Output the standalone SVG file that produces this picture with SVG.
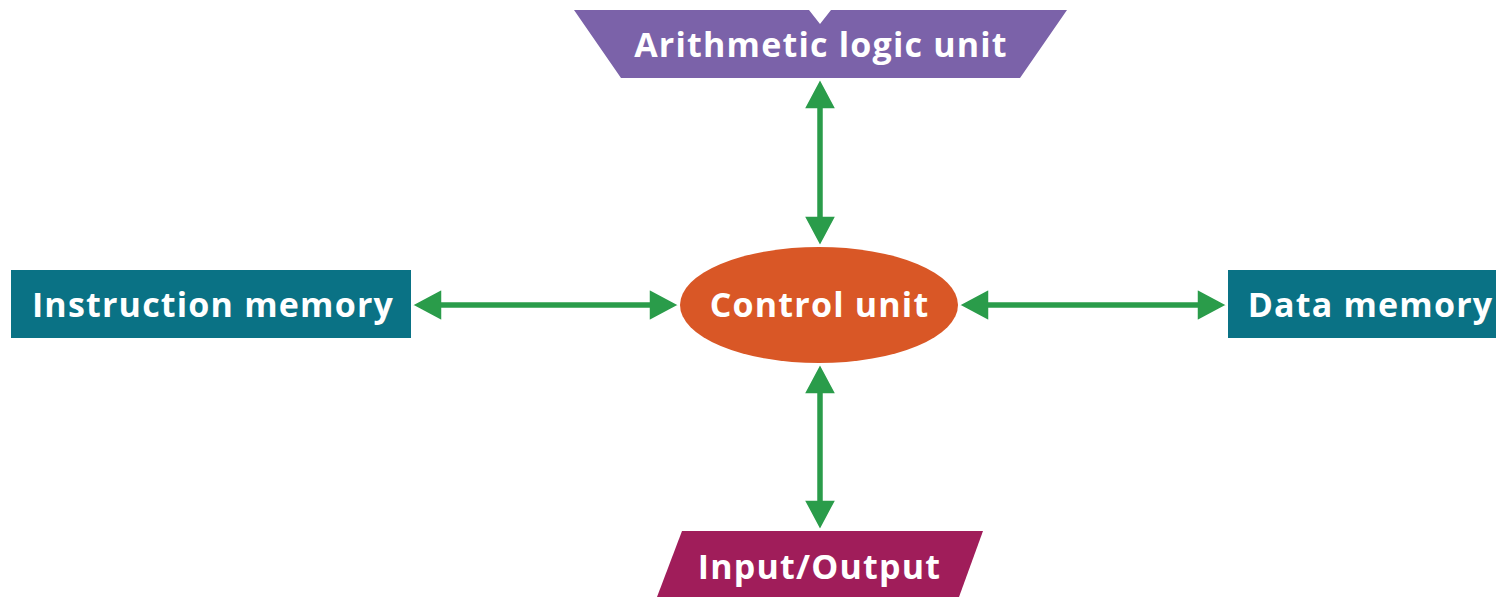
<svg xmlns="http://www.w3.org/2000/svg" width="1496" height="597" viewBox="0 0 1496 597">
<defs>
<style>
.lbl{font-family:"Open Sans","Noto Sans","Liberation Sans",sans-serif;font-weight:700;font-size:34px;letter-spacing:1.2px;fill:#fff;text-anchor:middle}
.arr{fill:#2a9c4a;stroke:#fff;stroke-width:1.5;stroke-linejoin:miter}
</style>
</defs>
<rect width="1496" height="597" fill="#fff"/>
<g id="connectors">
<polygon class="arr" points="820,79 836,109 823.5,109 823.5,216 836,216 820,246 804,216 816.5,216 816.5,109 804,109"/>
<polygon class="arr" points="820,364 836,394 823.5,394 823.5,500 836,500 820,530 804,500 816.5,500 816.5,394 804,394"/>
<polygon class="arr" points="412,305 442,289 442,301.5 649,301.5 649,289 679,305 649,321 649,308.5 442,308.5 442,321"/>
<polygon class="arr" points="959,305 989,289 989,301.5 1197,301.5 1197,289 1227,305 1197,321 1197,308.5 989,308.5 989,321"/>
</g>
<g id="alu">
<polygon points="574,10 809,10 820,24 831,10 1067,10 1020,78 621,78" fill="#7b62a9"/>
<text class="lbl" x="821" y="57">Arithmetic logic unit</text>
</g>
<g id="instruction-memory">
<rect x="11" y="270" width="400" height="68" fill="#0a7285"/>
<text class="lbl" x="213" y="317">Instruction memory</text>
</g>
<g id="control-unit">
<ellipse cx="819" cy="305" rx="139" ry="58" fill="#d95726"/>
<text class="lbl" x="819.5" y="317">Control unit</text>
</g>
<g id="data-memory">
<rect x="1228" y="270" width="270" height="68" fill="#0a7285"/>
<text class="lbl" x="1370.5" y="317">Data memory</text>
</g>
<g id="input-output">
<polygon points="682,531 983,531 959,597 657,597" fill="#a01d5a"/>
<text class="lbl" x="819.5" y="579">Input/Output</text>
</g>
</svg>
